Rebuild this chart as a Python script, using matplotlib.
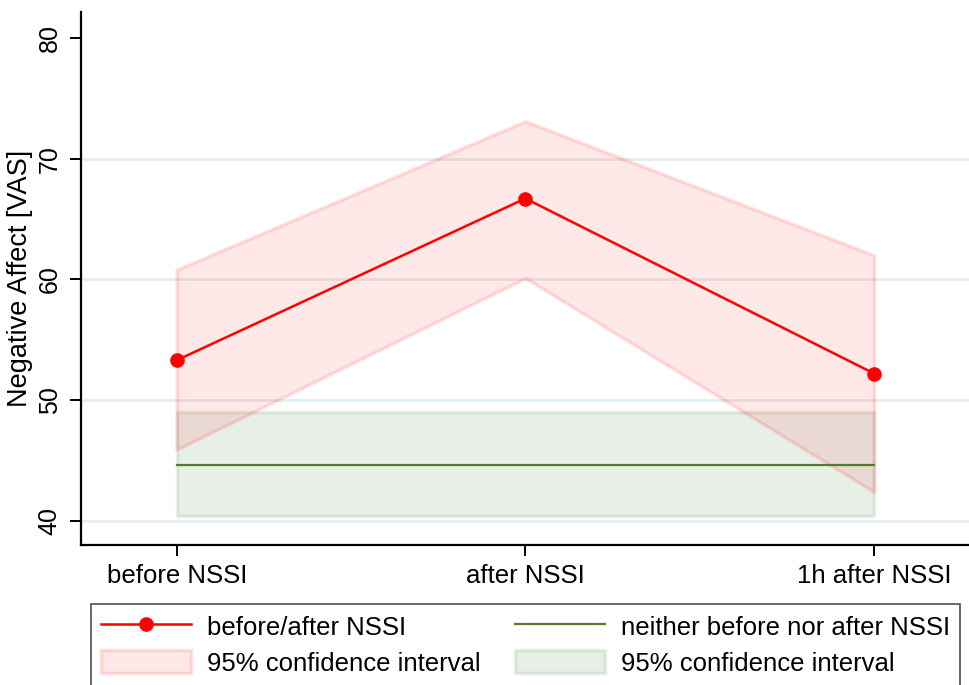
import matplotlib
matplotlib.use('Agg')
import matplotlib.pyplot as plt

plt.rcParams['font.family'] = ['Liberation Sans', 'DejaVu Sans']

################################################################################
# Data
timepoints = ['before NSSI', 'after NSSI', '1h after NSSI']
x = [1, 2, 3]

nssi_mean = [53.3, 66.7, 52.2]
nssi_upper = [60.8, 73.1, 62.0]
nssi_lower = [45.9, 60.1, 42.4]

ctrl_mean = [44.6, 44.6, 44.6]
ctrl_upper = [49.0, 49.0, 49.0]
ctrl_lower = [40.4, 40.4, 40.4]

yticks = [40, 50, 60, 70, 80]
grid_at = [40, 50, 60, 70]

################################################################################
# Plot
fig = plt.figure(figsize=(9.69, 6.85), dpi=100)
ax = fig.add_axes([0.0836, 0.2044, 0.9164, 0.7781])

for g in grid_at:
    ax.axhline(g, color='#e6eef0', lw=2, zorder=0)

ax.fill_between(x, ctrl_lower, ctrl_upper, facecolor=(0.1, 0.42, 0.1, 0.1),
                edgecolor=(0.1, 0.42, 0.1, 0.1), lw=2.5, zorder=1,
                label='95% confidence interval')
ax.fill_between(x, nssi_lower, nssi_upper, facecolor=(1, 0, 0, 0.09),
                edgecolor=(1, 0, 0, 0.12), lw=2.5, zorder=2,
                label='95% confidence interval')
ax.plot(x, ctrl_mean, color='#557a2a', lw=1.6, zorder=3,
        label='neither before nor after NSSI')
ax.plot(x, nssi_mean, color='red', lw=1.8, marker='o', markersize=9.5, zorder=4,
        label='before/after NSSI')

ax.set_xlim(0.7256, 3.272)
ax.set_ylim(38.0, 82.15)
ax.set_xticks(x)
ax.set_xticklabels(timepoints, fontsize=18.5)
ax.set_yticks(yticks)
ax.set_yticklabels([str(v) for v in yticks], fontsize=18, rotation=90, va='center')
ax.set_ylabel('Negative Affect [VAS]', fontsize=19.5, labelpad=3)

for side in ['top', 'right']:
    ax.spines[side].set_visible(False)
for side in ['left', 'bottom']:
    ax.spines[side].set_linewidth(1.6)
ax.tick_params(axis='both', length=8, width=1.4, pad=6)

h, l = ax.get_legend_handles_labels()
# order: red line, red ci, green line, green ci
order = [3, 1, 2, 0]
leg = fig.legend([h[i] for i in order], [l[i] for i in order],
                 loc='upper left', bbox_to_anchor=(0.0939, 0, 0.897, 1 - 604 / 685),
                 mode='expand', ncol=2, fontsize=18.5, frameon=True, fancybox=False,
                 handlelength=3.5, handleheight=1.0, handletextpad=0.6,
                 labelspacing=0.42, borderpad=0.4, borderaxespad=0)
leg.get_frame().set_edgecolor('#222222')
leg.get_frame().set_linewidth(1.2)

plt.savefig('out.png', dpi=100)
print('Done')
